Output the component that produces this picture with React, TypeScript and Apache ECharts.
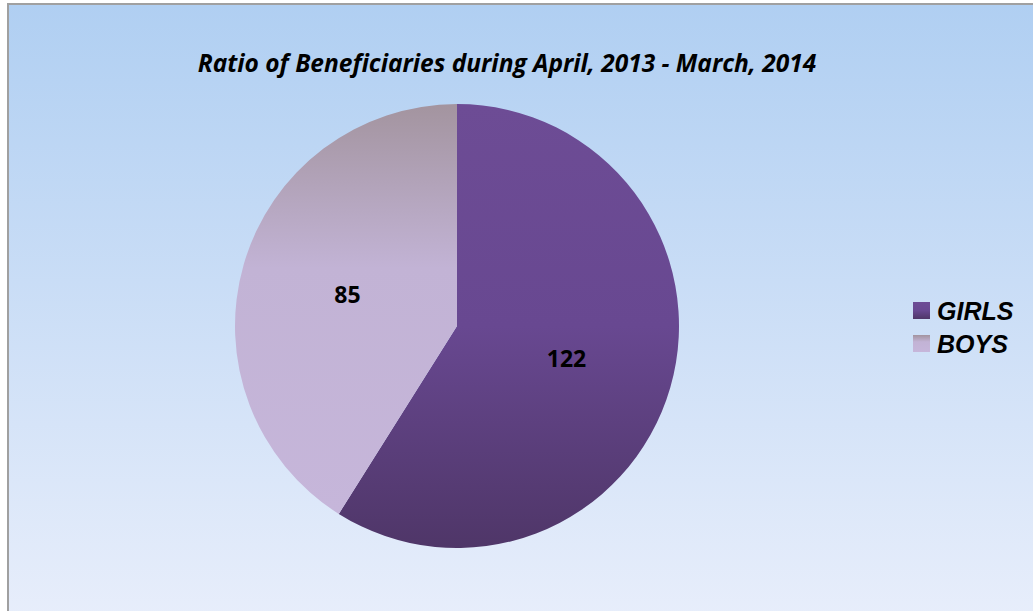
import React, { useEffect, useRef } from "react";
import * as echarts from "echarts";

const categories = ["GIRLS", "BOYS"];
const values = [122, 85];
const title = "Ratio of Beneficiaries during April, 2013 - March, 2014";

const gradients = [
  new echarts.graphic.LinearGradient(0, 0, 0, 1, [
    { offset: 0, color: "#6d4c95" },
    { offset: 0.5, color: "#684891" },
    { offset: 1, color: "#4f3668" },
  ]),
  new echarts.graphic.LinearGradient(0, 0, 0, 1, [
    { offset: 0, color: "#a3949f" },
    { offset: 0.4, color: "#c2b3d5" },
    { offset: 1, color: "#c6b6da" },
  ]),
];

export default function App() {
  const ref = useRef<HTMLDivElement>(null);
  useEffect(() => {
    document.body.style.margin = "0";
    const chart = echarts.init(ref.current!, null, { renderer: "svg" });
    chart.setOption({
      animation: false,
      graphic: [
        {
          type: "rect",
          z: -10,
          silent: true,
          shape: { x: 8, y: 4, width: 1040, height: 620 },
          style: {
            fill: new echarts.graphic.LinearGradient(0, 0, 0, 1, [
              { offset: 0, color: "#b0cff2" },
              { offset: 1, color: "#e8eefb" },
            ]),
            stroke: "#a0a0a0",
            lineWidth: 2,
          },
        },
      ],
      title: {
        text: title,
        left: 502,
        top: 45,
        textAlign: "center",
        textStyle: {
          fontFamily: "Open Sans",
          fontStyle: "italic",
          fontWeight: "bold",
          fontSize: 24.5,
          color: "#000",
        },
      },
      legend: {
        orient: "vertical",
        left: 908,
        top: 293,
        itemWidth: 17,
        itemHeight: 17,
        itemGap: 8,
        icon: "rect",
        data: categories,
        textStyle: {
          fontFamily: "Liberation Sans",
          fontStyle: "italic",
          fontWeight: "bold",
          fontSize: 25,
          color: "#000",
          padding: [0, 0, 0, 2],
        },
      },
      series: [
        {
          type: "pie",
          center: [457, 326],
          radius: 222,
          startAngle: 90,
          clockwise: true,
          label: {
            position: "inside",
            formatter: "{c}",
            fontFamily: "Open Sans",
            fontWeight: "bold",
            fontSize: 23,
            color: "#000",
          },
          labelLine: { show: false },
          emphasis: { disabled: true },
          data: categories.map((c, i) => ({
            name: c,
            value: values[i],
            itemStyle: { color: gradients[i] },
          })),
        },
      ],
    });
    return () => chart.dispose();
  }, []);
  return (
    <div
      ref={ref}
      style={{ position: "absolute", left: 0, top: 0, width: 1033, height: 611 }}
    />
  );
}
